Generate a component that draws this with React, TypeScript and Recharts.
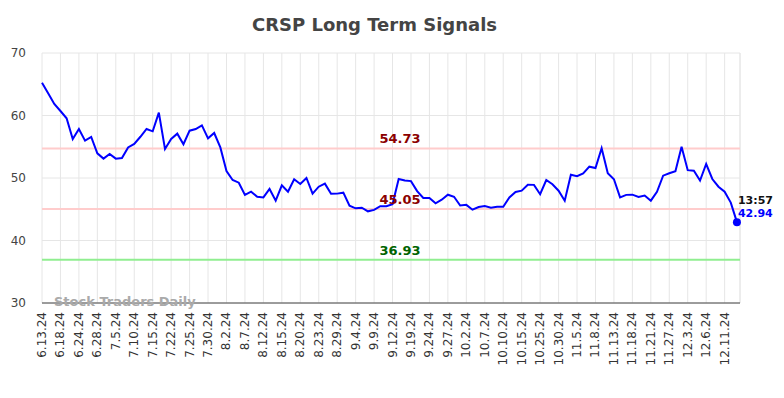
import React from "react";
import { CartesianGrid, Line, LineChart, ReferenceLine, XAxis, YAxis } from "recharts";

const tickLabels = [
  "6.13.24", "6.18.24", "6.24.24", "6.28.24", "7.5.24", "7.10.24", "7.15.24", "7.22.24",
  "7.25.24", "7.30.24", "8.2.24", "8.7.24", "8.12.24", "8.15.24", "8.20.24", "8.23.24",
  "8.29.24", "9.4.24", "9.9.24", "9.12.24", "9.19.24", "9.24.24", "9.27.24", "10.2.24",
  "10.7.24", "10.10.24", "10.15.24", "10.25.24", "10.30.24", "11.5.24", "11.8.24", "11.13.24",
  "11.18.24", "11.21.24", "11.27.24", "12.3.24", "12.6.24", "12.11.24",
];

// one value per trading session, labels every third session
const signal = [
  65.25, 63.55, 61.84, 60.72, 59.55, 56.24, 57.84, 55.97, 56.56, 53.95,
  53.1, 53.84, 53.1, 53.2, 54.9, 55.44, 56.6, 57.84, 57.47, 60.45,
  54.64, 56.24, 57.1, 55.4, 57.57, 57.84, 58.43, 56.35, 57.2, 54.9,
  51.12, 49.68, 49.25, 47.28, 47.81, 47.0, 46.9, 48.24, 46.37, 48.83,
  47.81, 49.8, 49.04, 50.0, 47.5, 48.61, 49.1, 47.47, 47.5, 47.65,
  45.57, 45.15, 45.25, 44.67, 44.9, 45.5, 45.5, 45.8, 49.84, 49.6,
  49.5, 47.9, 46.8, 46.8, 45.95, 46.53, 47.33, 47.0, 45.6, 45.7,
  44.93, 45.35, 45.5, 45.25, 45.4, 45.4, 46.9, 47.76, 47.97, 48.93,
  48.9, 47.4, 49.68, 49.0, 47.97, 46.37, 50.53, 50.3, 50.75, 51.81,
  51.6, 54.75, 50.75, 49.8, 46.9, 47.3, 47.33, 46.96, 47.2, 46.37,
  47.8, 50.37, 50.75, 51.07, 55.0, 51.25, 51.15, 49.6, 52.24, 49.84,
  48.61, 47.81, 46.06, 42.94,
];

const upper = 54.73;
const middle = 45.05;
const lower = 36.93;
const lastTime = "13:57";
const yTicks = [30, 40, 50, 60, 70];
const TICK_STEP = 3;
const X_MAX = 113.5;

const FONT = "DejaVu Sans";
const GRID = "#e6e6e6";

const data = signal.map((v, i) => ({ i, v }));
const xTicks = tickLabels.map((_, k) => k * TICK_STEP);

function XTick(props: any) {
  const { x, y, payload } = props;
  const label = tickLabels[payload.value / TICK_STEP] ?? "";
  return (
    <text
      x={x}
      y={y}
      transform={`rotate(-90, ${x}, ${y})`}
      textAnchor="end"
      dominantBaseline="central"
      fontFamily={FONT}
      fontSize={12}
      fill="#333"
    >
      {label}
    </text>
  );
}

function LastDot(props: any) {
  const { cx, cy, index } = props;
  if (index !== signal.length - 1) return <g key={`d${index}`} />;
  return (
    <g key={`d${index}`}>
      <circle cx={cx} cy={cy} r={4} fill="#0000ff" />
      <text x={cx + 1} y={cy - 18} fontFamily={FONT} fontSize={11} fontWeight="bold" fill="#111">
        {lastTime}
      </text>
      <text x={cx + 1} y={cy - 5} fontFamily={FONT} fontSize={11} fontWeight="bold" fill="#0000ff">
        {signal[signal.length - 1].toFixed(2)}
      </text>
    </g>
  );
}

const refLabel = (value: number, color: string) => ({
  value: value.toFixed(2),
  position: "top" as const,
  dx: 9,
  fill: color,
  fontFamily: FONT,
  fontSize: 13,
  fontWeight: "bold",
});

export default function App() {
  return (
    <div style={{ position: "absolute", left: 0, top: 0, width: 784, height: 398, background: "#fff" }}>
      <div
        style={{
          position: "absolute",
          top: 14,
          left: 0,
          width: 749,
          textAlign: "center",
          fontFamily: FONT,
          fontSize: 18,
          fontWeight: "bold",
          color: "#444",
          lineHeight: "22px",
        }}
      >
        CRSP Long Term Signals
      </div>
      <LineChart width={784} height={398} data={data} margin={{ top: 53, right: 44, bottom: 0, left: 0 }}>
        <CartesianGrid stroke={GRID} strokeWidth={1} />
        <XAxis
          dataKey="i"
          type="number"
          domain={[0, X_MAX]}
          ticks={xTicks}
          interval={0}
          height={95}
          tickLine={false}
          tickSize={6}
          tickMargin={3}
          axisLine={{ stroke: "#444", strokeWidth: 1 }}
          tick={<XTick />}
        />
        <YAxis
          domain={[30, 70]}
          ticks={yTicks}
          width={42}
          axisLine={false}
          tickLine={false}
          tickMargin={10}
          tick={{ fontFamily: FONT, fontSize: 12, fill: "#444" }}
        />
        <ReferenceLine x={X_MAX} stroke={GRID} />
        <ReferenceLine y={upper} stroke="#ffcccc" strokeWidth={2} label={refLabel(upper, "#8b0000")} />
        <ReferenceLine y={middle} stroke="#ffcccc" strokeWidth={2} label={refLabel(middle, "#8b0000")} />
        <ReferenceLine y={lower} stroke="#90ee90" strokeWidth={2} label={refLabel(lower, "#006400")} />
        <Line
          type="linear"
          dataKey="v"
          stroke="#0000ff"
          strokeWidth={2}
          dot={<LastDot />}
          activeDot={false}
          isAnimationActive={false}
        />
      </LineChart>
      <div
        style={{
          position: "absolute",
          left: 54,
          top: 294,
          fontFamily: FONT,
          fontSize: 13,
          fontWeight: "bold",
          color: "#aaa",
          lineHeight: "16px",
        }}
      >
        Stock Traders Daily
      </div>
    </div>
  );
}
